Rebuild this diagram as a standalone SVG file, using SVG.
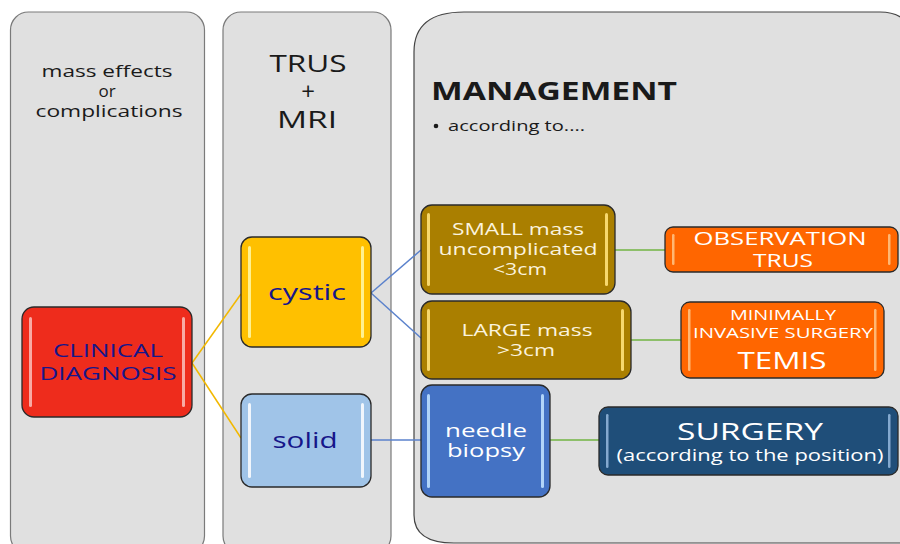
<svg xmlns="http://www.w3.org/2000/svg" width="900" height="544" viewBox="0 0 900 544">
<style>
.col{fill:#E0E0E0;stroke:#7a7a7a;stroke-width:1.2}
.node{stroke:#2a2a2a;stroke-width:1.3}
.hl{fill:#ffffff;opacity:0.6}
.t{font-family:"Open Sans","Liberation Sans",sans-serif;text-anchor:middle}
.dk{fill:#1a1a1a}
.nv{fill:#16168a}
.wh{fill:#ffffff}
.cr{fill:#FBF3DE}
.cy{stroke:#F2B800;stroke-width:1.5;fill:none}
.bl{stroke:#5B82CC;stroke-width:1.5;fill:none}
.gr{stroke:#8DBF6A;stroke-width:1.8;fill:none}
</style>
<rect width="900" height="544" fill="#ffffff"/>
<g id="col-complications">
<rect class="col" x="10.5" y="12" width="194" height="542" rx="18"/>
<text class="t dk" font-size="17" x="107" y="77" textLength="131" lengthAdjust="spacingAndGlyphs">mass effects</text>
<text class="t dk" font-size="17" x="107" y="97">or</text>
<text class="t dk" font-size="17" x="109" y="117" textLength="147" lengthAdjust="spacingAndGlyphs">complications</text>
</g>
<g id="col-imaging">
<rect class="col" x="223" y="12" width="168" height="542" rx="18"/>
<text class="t dk" font-size="24" x="308" y="72" textLength="77" lengthAdjust="spacingAndGlyphs">TRUS</text>
<text class="t dk" font-size="24" x="308" y="100">+</text>
<text class="t dk" font-size="24" x="307" y="128" textLength="60" lengthAdjust="spacingAndGlyphs">MRI</text>
</g>
<g id="col-management">
<path class="col" style="stroke:#444" d="M414,52 Q414,12 464,12 L880,12 Q915,12 915,52 L915,543 L454,543 Q414,543 414,515 Z"/>
<text class="dk" font-family="'Open Sans','Liberation Sans',sans-serif" font-weight="bold" font-size="25" x="431" y="100" textLength="246" lengthAdjust="spacingAndGlyphs">MANAGEMENT</text>
<circle cx="436" cy="126" r="2.3" fill="#1a1a1a"/>
<text class="dk" font-family="'Open Sans','Liberation Sans',sans-serif" font-size="14" x="448" y="131" textLength="137" lengthAdjust="spacingAndGlyphs">according to....</text>
</g>
<g id="connectors">
<path class="cy" d="M192,363 L241,294"/>
<path class="cy" d="M192,363 L241,438"/>
<path class="bl" d="M371,293 L421,250"/>
<path class="bl" d="M371,293 L421,338"/>
<path class="bl" d="M371,440 L421,440"/>
<path class="gr" d="M615,250 L665,250"/>
<path class="gr" d="M631,340 L681,340"/>
<path class="gr" d="M550,440 L599,440"/>
</g>
<g id="clinical-diagnosis">
<rect class="node" x="22" y="307" width="170" height="110" rx="12" fill="#EE2C1C"/>
<rect class="hl" x="29" y="317" width="3" height="90" rx="1.5"/>
<rect class="hl" x="182" y="317" width="3" height="90" rx="1.5"/>
<text class="t nv" font-size="18" x="108" y="357" textLength="110" lengthAdjust="spacingAndGlyphs">CLINICAL</text>
<text class="t nv" font-size="18" x="108" y="380" textLength="137" lengthAdjust="spacingAndGlyphs">DIAGNOSIS</text>
</g>
<g id="cystic">
<rect class="node" x="241" y="237" width="130" height="110" rx="11" fill="#FFC000"/>
<rect class="hl" x="248" y="246" width="3" height="92" rx="1.5" style="fill:#FFF6A0;opacity:0.9"/>
<rect class="hl" x="361" y="246" width="3" height="92" rx="1.5" style="fill:#FFF6A0;opacity:0.9"/>
<text class="t nv" font-size="22" x="307" y="300" textLength="78" lengthAdjust="spacingAndGlyphs">cystic</text>
</g>
<g id="solid">
<rect class="node" x="241" y="394" width="130" height="93" rx="11" fill="#A0C4E8"/>
<rect class="hl" x="248" y="403" width="3" height="75" rx="1.5" style="opacity:0.85"/>
<rect class="hl" x="361" y="403" width="3" height="75" rx="1.5" style="opacity:0.85"/>
<text class="t nv" font-size="21" x="305" y="448" textLength="65" lengthAdjust="spacingAndGlyphs">solid</text>
</g>
<g id="small-mass">
<rect class="node" x="421" y="205" width="194" height="89" rx="11" fill="#AA7F00"/>
<rect class="hl" x="427" y="213" width="3" height="73" rx="1.5" style="fill:#FFE27A;opacity:0.9"/>
<rect class="hl" x="605" y="213" width="3" height="73" rx="1.5" style="fill:#FFE27A;opacity:0.9"/>
<text class="t cr" font-size="17" x="518" y="235" textLength="132" lengthAdjust="spacingAndGlyphs">SMALL mass</text>
<text class="t cr" font-size="17" x="518" y="255" textLength="159" lengthAdjust="spacingAndGlyphs">uncomplicated</text>
<text class="t cr" font-size="17" x="520" y="275" textLength="54" lengthAdjust="spacingAndGlyphs">&lt;3cm</text>
</g>
<g id="large-mass">
<rect class="node" x="421" y="301" width="210" height="78" rx="11" fill="#AA7F00"/>
<rect class="hl" x="427" y="309" width="3" height="62" rx="1.5" style="fill:#FFE27A;opacity:0.9"/>
<rect class="hl" x="621" y="309" width="3" height="62" rx="1.5" style="fill:#FFE27A;opacity:0.9"/>
<text class="t cr" font-size="17" x="527" y="336" textLength="131" lengthAdjust="spacingAndGlyphs">LARGE mass</text>
<text class="t cr" font-size="17" x="526" y="356" textLength="58" lengthAdjust="spacingAndGlyphs">&gt;3cm</text>
</g>
<g id="needle-biopsy">
<rect class="node" x="421" y="385" width="129" height="112" rx="11" fill="#4472C4"/>
<rect class="hl" x="427" y="394" width="3" height="94" rx="1.5" style="fill:#BFE0FF;opacity:0.9"/>
<rect class="hl" x="541" y="394" width="3" height="94" rx="1.5" style="fill:#BFE0FF;opacity:0.9"/>
<text class="t wh" font-size="19" x="486" y="437" textLength="82" lengthAdjust="spacingAndGlyphs">needle</text>
<text class="t wh" font-size="19" x="486" y="457" textLength="78" lengthAdjust="spacingAndGlyphs">biopsy</text>
</g>
<g id="observation">
<rect class="node" x="665" y="227" width="233" height="45" rx="8" fill="#FF6600"/>
<rect class="hl" x="672" y="234" width="2.5" height="31" rx="1.2" style="fill:#FFC080;opacity:0.9"/>
<rect class="hl" x="888" y="234" width="2.5" height="31" rx="1.2" style="fill:#FFC080;opacity:0.9"/>
<text class="t wh" font-size="18" x="780" y="245" textLength="173" lengthAdjust="spacingAndGlyphs">OBSERVATION</text>
<text class="t wh" font-size="18" x="783" y="267" textLength="60" lengthAdjust="spacingAndGlyphs">TRUS</text>
</g>
<g id="minimally-invasive">
<rect class="node" x="681" y="302" width="203" height="76" rx="9" fill="#FF6600"/>
<rect class="hl" x="688" y="309" width="2.5" height="62" rx="1.2" style="fill:#FFC080;opacity:0.9"/>
<rect class="hl" x="874" y="309" width="2.5" height="62" rx="1.2" style="fill:#FFC080;opacity:0.9"/>
<text class="t wh" font-size="15" x="783" y="320" textLength="106" lengthAdjust="spacingAndGlyphs">MINIMALLY</text>
<text class="t wh" font-size="15" x="783" y="338" textLength="180" lengthAdjust="spacingAndGlyphs">INVASIVE SURGERY</text>
<text class="t wh" font-size="24" x="782" y="369" textLength="89" lengthAdjust="spacingAndGlyphs">TEMIS</text>
</g>
<g id="surgery">
<rect class="node" x="599" y="407" width="299" height="68" rx="9" fill="#1F4E79"/>
<rect class="hl" x="606" y="414" width="2.5" height="54" rx="1.2" style="fill:#8FB4D8;opacity:0.9"/>
<rect class="hl" x="888" y="414" width="2.5" height="54" rx="1.2" style="fill:#8FB4D8;opacity:0.9"/>
<text class="t wh" font-size="24" x="750" y="440" textLength="146" lengthAdjust="spacingAndGlyphs">SURGERY</text>
<text class="t wh" font-size="17" x="750" y="461" textLength="267" lengthAdjust="spacingAndGlyphs">(according to the position)</text>
</g>
</svg>
